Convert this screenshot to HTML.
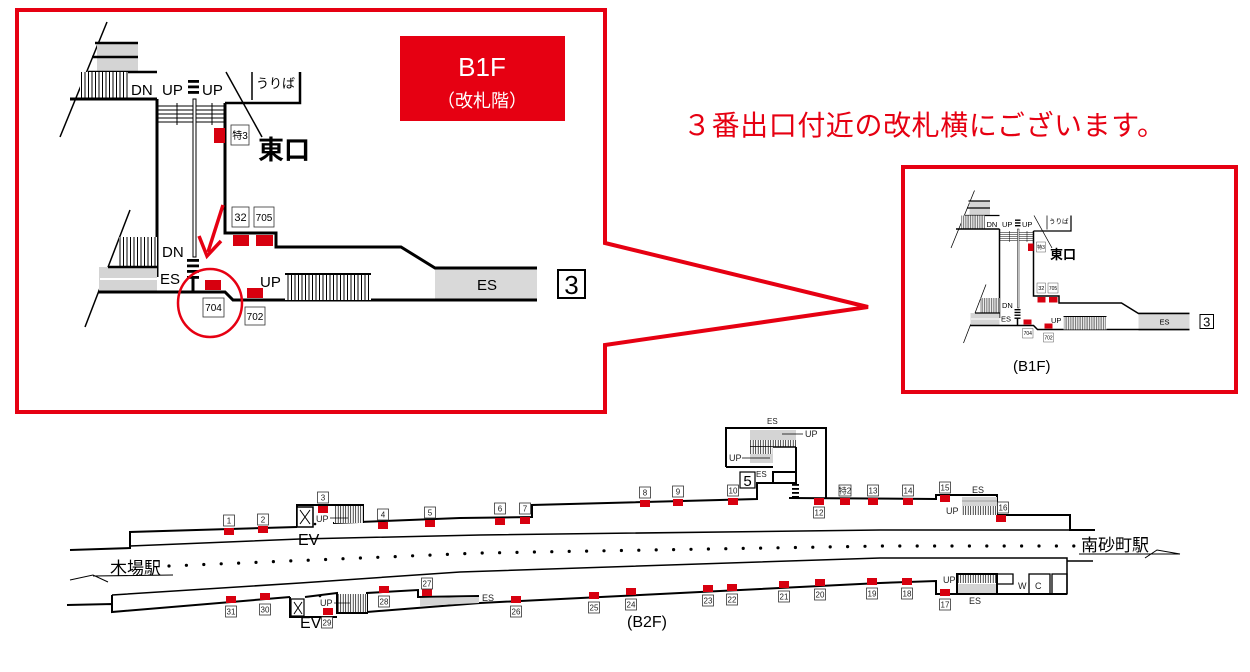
<!DOCTYPE html>
<html><head><meta charset="utf-8"><style>
html,body{margin:0;padding:0;background:#fff;}
svg{display:block;}
text{font-family:"Liberation Sans","Noto Sans CJK JP",sans-serif;}
.lb{fill:#fff;stroke:#333;stroke-width:0.8;}
.lt{font-size:8px;text-anchor:middle;fill:#222;}
.sq{fill:#d7000f;}
.w{stroke:#000;fill:none;}
</style></head><body>
<svg width="1250" height="672" viewBox="0 0 1250 672" xmlns="http://www.w3.org/2000/svg">
<defs>
<pattern id="vh" width="3.5" height="10" patternUnits="userSpaceOnUse"><rect width="3.5" height="10" fill="#fff"/><line x1="1" y1="0" x2="1" y2="10" stroke="#000" stroke-width="1"/></pattern>
<pattern id="vs" width="2.5" height="10" patternUnits="userSpaceOnUse"><rect width="2.5" height="10" fill="#fff"/><line x1="0.7" y1="0" x2="0.7" y2="10" stroke="#000" stroke-width="0.7"/></pattern>
<g id="b1f">
  <line x1="107" y1="22" x2="60" y2="137" stroke="#000" stroke-width="1.5"/>
  <rect x="97" y="43" width="41" height="29" fill="#d4d4d4"/>
  <g stroke="#000" stroke-width="2.5"><line x1="95" y1="43" x2="138" y2="43"/><line x1="92" y1="57" x2="138" y2="57"/><line x1="88" y1="72" x2="157" y2="72"/></g>
  <rect x="80" y="72" width="48" height="27" fill="url(#vh)"/>
  <line x1="70" y1="99" x2="157" y2="99" stroke="#000" stroke-width="3"/>
  <text x="131" y="95" font-size="15">DN</text>
  <line x1="157" y1="99" x2="157" y2="277" stroke="#000" stroke-width="3"/>
  <text x="162" y="95" font-size="15">UP</text>
  <rect x="188" y="80" width="11" height="2.8"/><rect x="188" y="85.5" width="11" height="2.8"/><rect x="188" y="91" width="11" height="2.8"/>
  <text x="202" y="95" font-size="15">UP</text>
  <g stroke="#000" stroke-width="1"><line x1="157" y1="106" x2="225" y2="106"/><line x1="157" y1="110" x2="225" y2="110"/><line x1="157" y1="114" x2="225" y2="114"/><line x1="157" y1="118" x2="225" y2="118"/><line x1="157" y1="122" x2="225" y2="122"/><line x1="177" y1="103" x2="177" y2="125"/><line x1="212" y1="103" x2="212" y2="125"/></g>
  <rect x="193" y="99" width="3" height="158" fill="#fff" stroke="#000" stroke-width="1"/>
  <polyline class="w" stroke-width="3" points="225,103 225,233 276,233 276,247 401,247 435,268 537,268"/>
  <polyline class="w" stroke-width="2.5" points="225,103 300,103 300,72"/>
  <line x1="252" y1="72" x2="252" y2="100" stroke="#000" stroke-width="1.5"/>
  <text x="256" y="88" font-size="13">うりば</text>
  <line x1="226" y1="72" x2="262" y2="137" stroke="#000" stroke-width="1.5"/>
  <rect x="214" y="128" width="11" height="15" class="sq"/>
  <rect x="231" y="125" width="18" height="20" class="lb"/><text x="240" y="139" font-size="10" text-anchor="middle">特3</text>
  <text x="258" y="159" font-size="26" font-weight="bold">東口</text>
  <rect x="232" y="207" width="17" height="20" class="lb"/><text x="240.5" y="221" font-size="11" text-anchor="middle">32</text>
  <rect x="254" y="207" width="20" height="20" class="lb"/><text x="264" y="221" font-size="10" text-anchor="middle">705</text>
  <rect x="233" y="235" width="16" height="11" class="sq"/><rect x="256" y="235" width="17" height="11" class="sq"/>
  <line x1="130" y1="210" x2="85" y2="327" stroke="#000" stroke-width="1.5"/>
  <rect x="119" y="237" width="38" height="30" fill="url(#vh)"/>
  <rect x="99" y="267" width="58" height="25" fill="#d4d4d4"/>
  <line x1="108" y1="267" x2="157" y2="267" stroke="#000" stroke-width="2.5"/>
  <line x1="100" y1="279" x2="157" y2="279" stroke="#fff" stroke-width="2"/>
  <text x="162" y="257" font-size="15">DN</text>
  <text x="160" y="284" font-size="15">ES</text>
  <rect x="187" y="259" width="12" height="2.8"/><rect x="187" y="264.5" width="12" height="2.8"/><rect x="187" y="270" width="12" height="2.8"/><rect x="187" y="276" width="12" height="2.8"/>
  <rect x="191.5" y="276" width="3" height="16"/>
  <polyline class="w" stroke-width="3" points="98,292 225,292 233,300 537,300"/>
  <rect x="205" y="280" width="16" height="10" class="sq"/>
  <rect x="203" y="298" width="21" height="19" class="lb"/><text x="213.5" y="311" font-size="10" text-anchor="middle">704</text>
  <rect x="247" y="288" width="16" height="10" class="sq"/>
  <rect x="245" y="307" width="20" height="18" class="lb"/><text x="255" y="320" font-size="10" text-anchor="middle">702</text>
  <text x="260" y="287" font-size="15">UP</text>
  <rect x="285" y="274" width="86" height="26" fill="url(#vh)"/>
  <line x1="285" y1="274" x2="371" y2="274" stroke="#000" stroke-width="2"/>
  <rect x="435" y="268" width="102" height="32" fill="#d9d9d9"/>
  <line x1="435" y1="268" x2="537" y2="268" stroke="#000" stroke-width="3"/>
  <line x1="435" y1="300" x2="537" y2="300" stroke="#000" stroke-width="3"/>
  <text x="487" y="290" font-size="15" text-anchor="middle">ES</text>
  <rect x="558" y="270" width="27" height="28" fill="#fff" stroke="#000" stroke-width="2"/>
  <text x="571.5" y="294" font-size="26" text-anchor="middle">3</text>
</g>
</defs>

<!-- big frame -->
<path d="M17,10 L605,10 L605,243 L868,307 L605,345 L605,412 L17,412 Z" fill="none" stroke="#e60012" stroke-width="4"/>
<use href="#b1f"/>
<rect x="400" y="36" width="165" height="85" fill="#e60012"/>
<text x="482" y="76" font-size="26" fill="#fff" text-anchor="middle">B1F</text>
<text x="482" y="107" font-size="18" fill="#fff" text-anchor="middle">（改札階）</text>
<line x1="223" y1="205" x2="208" y2="252" stroke="#e60012" stroke-width="3.5"/>
<polyline points="199,236 207,256 221,241" fill="none" stroke="#e60012" stroke-width="3.5"/>
<ellipse cx="210" cy="303" rx="32" ry="34" fill="none" stroke="#e60012" stroke-width="2.5"/>

<text x="683" y="135" font-size="28" fill="#e60012" textLength="482" font-family="'Liberation Sans','Noto Sans CJK JP',sans-serif">３番出口付近の改札横にございます。</text>

<!-- inset -->
<rect x="903" y="167" width="333" height="225" fill="none" stroke="#e60012" stroke-width="4"/>
<use href="#b1f" transform="translate(921,179.5) scale(0.5)"/>
<text x="1013" y="371" font-size="15">(B1F)</text>

<!-- B2F -->
<g stroke="#000" fill="none" stroke-width="2">
  <polyline points="70,550 130,548 130,532 297,527"/>
  <polyline points="297,527 297,505 363,505 363,523"/>
  <polyline points="333,523 460,518 532,517 532,505 757,499 757,483 773,483"/>
  <polyline points="726,467 726,428 826,428 826,498"/>
  <polyline points="726,467 773,467"/>
  <rect x="773" y="472" width="23" height="11"/>
  <line x1="796" y1="447" x2="796" y2="472"/>
  <polyline points="789,498 936,499 936,495 997,495 997,515 1070,515 1070,530 1095,530"/>
  <polyline points="130,546 300,539 480,535 880,530 1070,530" stroke-width="1.5"/>
  <polyline points="67,605 112,604 112,612 290,597"/>
  <line x1="112" y1="604" x2="112" y2="595"/>
  <polyline points="112,595 300,583 460,572 880,558 1067,558 1067,594" stroke-width="1.5"/>
  <line x1="1067" y1="561" x2="1093" y2="561" stroke-width="1.5"/>
  <polyline points="290,597 290,617 337,617"/>
  <polyline points="305,597 337,593 337,613 367,613 367,593 418,590 418,597 479,596"/>
  <polyline points="367,612 480,603 700,592 880,583 936,581 936,594 1067,594"/>
  <rect x="957" y="574" width="40" height="20"/>
  <polyline points="997,574 1013,574 1013,584 997,584" stroke-width="1.3"/>
  <rect x="1029" y="574" width="21" height="20" stroke-width="1.3"/>
  <rect x="1052" y="574" width="15" height="20" stroke-width="1.3"/>
  <polyline points="70,580 93,575 108,582" stroke-width="1"/>
  <line x1="93" y1="576" x2="173" y2="575" stroke-width="1"/>
  <line x1="1079" y1="554" x2="1180" y2="554" stroke-width="1"/>
  <polyline points="1145,558 1157,550 1180,554" stroke-width="1"/>
</g>
<rect x="297" y="507" width="16" height="20" fill="#fff" stroke="#000" stroke-width="1.5"/>
<path d="M300,510 L310,524 M310,510 L300,524" stroke="#000" stroke-width="1"/>
<rect x="334" y="506" width="29" height="17" fill="url(#vs)"/>
<rect x="291" y="599" width="13" height="17" fill="#fff" stroke="#000" stroke-width="1.2"/>
<path d="M294,602 L302,614 M302,602 L294,614" stroke="#000" stroke-width="1"/>
<rect x="338" y="594" width="29" height="18" fill="url(#vs)"/>
<polygon points="420,598 479,597 479,603 420,606" fill="#d4d4d4"/>
<rect x="750" y="430" width="46" height="10" fill="#d4d4d4"/>
<rect x="750" y="440" width="46" height="7" fill="url(#vs)"/>
<line x1="750" y1="447" x2="796" y2="447" stroke="#000" stroke-width="1.5"/>
<rect x="750" y="447" width="23" height="7" fill="url(#vs)"/>
<rect x="750" y="454" width="23" height="9" fill="#d4d4d4"/>
<rect x="792" y="484" width="7" height="1.8"/><rect x="792" y="488" width="7" height="1.8"/><rect x="792" y="492" width="7" height="1.8"/><rect x="792" y="496" width="7" height="1.8"/>
<rect x="962" y="497" width="35" height="9" fill="#d4d4d4"/>
<line x1="962" y1="501" x2="997" y2="501" stroke="#888" stroke-width="0.8"/>
<rect x="962" y="506" width="35" height="9" fill="url(#vs)"/>
<rect x="958" y="575" width="38" height="8" fill="url(#vs)"/>
<rect x="958" y="584" width="38" height="9" fill="#d4d4d4"/>
<g font-size="9" fill="#222">
<text x="767" y="424" font-size="8">ES</text>
<text x="805" y="437">UP</text><line x1="782" y1="434" x2="803" y2="434" stroke="#000" stroke-width="0.7"/>
<text x="729" y="461">UP</text><line x1="742" y1="458" x2="770" y2="458" stroke="#000" stroke-width="0.7"/>
<text x="756" y="477" font-size="8">ES</text>
<text x="972" y="493">ES</text>
<text x="946" y="514">UP</text>
<text x="943" y="583">UP</text>
<text x="969" y="604">ES</text>
<text x="1018" y="589">W</text><text x="1035" y="589">C</text>
<text x="482" y="601">ES</text>
<text x="316" y="522">UP</text><line x1="330" y1="518" x2="348" y2="518" stroke="#000" stroke-width="0.7"/>
<text x="320" y="606">UP</text><line x1="334" y1="603" x2="350" y2="603" stroke="#000" stroke-width="0.7"/>
</g>
<rect x="740" y="472" width="15" height="16" fill="#fff" stroke="#000" stroke-width="1.2"/>
<text x="747.5" y="486" font-size="15" text-anchor="middle">5</text>
<text x="298" y="545" font-size="16">EV</text>
<text x="300" y="628" font-size="16">EV</text>
<circle cx="315" cy="524" r="1.3"/><circle cx="320" cy="596" r="1.3"/>
<text x="110" y="574" font-size="17" font-family="'Liberation Sans','Noto Sans CJK JP',sans-serif">木場駅</text>
<text x="1081" y="551" font-size="17" font-family="'Liberation Sans','Noto Sans CJK JP',sans-serif">南砂町駅</text>
<text x="627" y="627" font-size="16">(B2F)</text>

<!-- dots -->
<g fill="#000">
<circle cx="169" cy="566" r="1.6"/><circle cx="186.4" cy="565.3" r="1.6"/><circle cx="203.8" cy="564.5" r="1.6"/><circle cx="221.2" cy="563.8" r="1.6"/><circle cx="238.6" cy="563.1" r="1.6"/><circle cx="256" cy="562.4" r="1.6"/><circle cx="273.4" cy="561.6" r="1.6"/><circle cx="290.8" cy="560.9" r="1.6"/><circle cx="308.2" cy="560.2" r="1.6"/><circle cx="325.6" cy="559.5" r="1.6"/><circle cx="343" cy="558.7" r="1.6"/><circle cx="360.4" cy="558" r="1.6"/><circle cx="377.8" cy="557.3" r="1.6"/><circle cx="395.2" cy="556.6" r="1.6"/><circle cx="412.6" cy="555.8" r="1.6"/><circle cx="430" cy="555.1" r="1.6"/><circle cx="447.4" cy="554.4" r="1.6"/><circle cx="464.8" cy="553.6" r="1.6"/><circle cx="482.2" cy="553" r="1.6"/><circle cx="499.6" cy="552.7" r="1.6"/><circle cx="517" cy="552.4" r="1.6"/><circle cx="534.4" cy="552" r="1.6"/><circle cx="551.8" cy="551.7" r="1.6"/><circle cx="569.2" cy="551.4" r="1.6"/><circle cx="586.6" cy="551.1" r="1.6"/><circle cx="604" cy="550.8" r="1.6"/><circle cx="621.4" cy="550.5" r="1.6"/><circle cx="638.8" cy="550.2" r="1.6"/><circle cx="656.2" cy="549.9" r="1.6"/><circle cx="673.6" cy="549.6" r="1.6"/><circle cx="691" cy="549.3" r="1.6"/><circle cx="708.4" cy="549" r="1.6"/><circle cx="725.8" cy="548.7" r="1.6"/><circle cx="743.2" cy="548.4" r="1.6"/><circle cx="760.6" cy="548.1" r="1.6"/><circle cx="778" cy="547.8" r="1.6"/><circle cx="795.4" cy="547.5" r="1.6"/><circle cx="812.8" cy="547.2" r="1.6"/><circle cx="830.2" cy="546.9" r="1.6"/><circle cx="847.6" cy="546.6" r="1.6"/><circle cx="865" cy="546.3" r="1.6"/><circle cx="882.4" cy="546" r="1.6"/><circle cx="899.8" cy="546" r="1.6"/><circle cx="917.2" cy="546" r="1.6"/><circle cx="934.6" cy="546" r="1.6"/><circle cx="952" cy="546" r="1.6"/><circle cx="969.4" cy="546" r="1.6"/><circle cx="986.8" cy="546" r="1.6"/><circle cx="1004.2" cy="546" r="1.6"/><circle cx="1021.6" cy="546" r="1.6"/><circle cx="1039" cy="546" r="1.6"/><circle cx="1056.4" cy="546" r="1.6"/><circle cx="1073.8" cy="546" r="1.6"/>
</g>

<!-- red squares upper -->
<g class="sq">
<rect x="224" y="528" width="10" height="7"/><rect x="258" y="526" width="10" height="7"/><rect x="318" y="506" width="10" height="7"/><rect x="378" y="522" width="10" height="7"/><rect x="425" y="520" width="10" height="7"/><rect x="495" y="518" width="10" height="7"/><rect x="520" y="517" width="10" height="7"/><rect x="640" y="500" width="10" height="7"/><rect x="673" y="499" width="10" height="7"/><rect x="728" y="498" width="10" height="7"/><rect x="814" y="498" width="10" height="7"/><rect x="840" y="498" width="10" height="7"/><rect x="868" y="498" width="10" height="7"/><rect x="903" y="498" width="10" height="7"/><rect x="940" y="495" width="10" height="7"/><rect x="996" y="515" width="10" height="7"/>
<rect x="226" y="596" width="10" height="7"/><rect x="260" y="593" width="10" height="7"/><rect x="323" y="608" width="10" height="7"/><rect x="379" y="586" width="10" height="7"/><rect x="422" y="589" width="10" height="7"/><rect x="511" y="596" width="10" height="7"/><rect x="589" y="592" width="10" height="7"/><rect x="626" y="588" width="10" height="7"/><rect x="703" y="585" width="10" height="7"/><rect x="727" y="584" width="10" height="7"/><rect x="779" y="581" width="10" height="7"/><rect x="815" y="579" width="10" height="7"/><rect x="867" y="578" width="10" height="7"/><rect x="902" y="578" width="10" height="7"/><rect x="940" y="589" width="10" height="7"/>
</g>
<!-- labels -->
<g>
<rect class="lb" x="223.5" y="515" width="11" height="11"/><text class="lt" x="229" y="523.5">1</text>
<rect class="lb" x="257.5" y="514" width="11" height="11"/><text class="lt" x="263" y="522.5">2</text>
<rect class="lb" x="317.5" y="492" width="11" height="11"/><text class="lt" x="323" y="500.5">3</text>
<rect class="lb" x="377.5" y="509" width="11" height="11"/><text class="lt" x="383" y="517.5">4</text>
<rect class="lb" x="424.5" y="507" width="11" height="11"/><text class="lt" x="430" y="515.5">5</text>
<rect class="lb" x="494.5" y="503" width="11" height="11"/><text class="lt" x="500" y="511.5">6</text>
<rect class="lb" x="519.5" y="503" width="11" height="11"/><text class="lt" x="525" y="511.5">7</text>
<rect class="lb" x="639.5" y="487" width="11" height="11"/><text class="lt" x="645" y="495.5">8</text>
<rect class="lb" x="672.5" y="486" width="11" height="11"/><text class="lt" x="678" y="494.5">9</text>
<rect class="lb" x="727.5" y="485" width="11" height="11"/><text class="lt" x="733" y="493.5">10</text>
<rect class="lb" x="813.5" y="507" width="11" height="11"/><text class="lt" x="819" y="515.5">12</text>
<rect class="lb" x="839" y="485" width="12" height="11"/><text class="lt" x="845" y="493.5" font-size="7">特2</text>
<rect class="lb" x="867.5" y="485" width="11" height="11"/><text class="lt" x="873" y="493.5">13</text>
<rect class="lb" x="902.5" y="485" width="11" height="11"/><text class="lt" x="908" y="493.5">14</text>
<rect class="lb" x="939.5" y="482" width="11" height="11"/><text class="lt" x="945" y="490.5">15</text>
<rect class="lb" x="997.5" y="502" width="11" height="11"/><text class="lt" x="1003" y="510.5">16</text>
<rect class="lb" x="225.5" y="606" width="11" height="11"/><text class="lt" x="231" y="614.5">31</text>
<rect class="lb" x="259.5" y="604" width="11" height="11"/><text class="lt" x="265" y="612.5">30</text>
<rect class="lb" x="321.5" y="617" width="11" height="11"/><text class="lt" x="327" y="625.5">29</text>
<rect class="lb" x="378.5" y="596" width="11" height="11"/><text class="lt" x="384" y="604.5">28</text>
<rect class="lb" x="421.5" y="578" width="11" height="11"/><text class="lt" x="427" y="586.5">27</text>
<rect class="lb" x="510.5" y="606" width="11" height="11"/><text class="lt" x="516" y="614.5">26</text>
<rect class="lb" x="588.5" y="602" width="11" height="11"/><text class="lt" x="594" y="610.5">25</text>
<rect class="lb" x="625.5" y="599" width="11" height="11"/><text class="lt" x="631" y="607.5">24</text>
<rect class="lb" x="702.5" y="595" width="11" height="11"/><text class="lt" x="708" y="603.5">23</text>
<rect class="lb" x="726.5" y="594" width="11" height="11"/><text class="lt" x="732" y="602.5">22</text>
<rect class="lb" x="778.5" y="591" width="11" height="11"/><text class="lt" x="784" y="599.5">21</text>
<rect class="lb" x="814.5" y="589" width="11" height="11"/><text class="lt" x="820" y="597.5">20</text>
<rect class="lb" x="866.5" y="588" width="11" height="11"/><text class="lt" x="872" y="596.5">19</text>
<rect class="lb" x="901.5" y="588" width="11" height="11"/><text class="lt" x="907" y="596.5">18</text>
<rect class="lb" x="939.5" y="599" width="11" height="11"/><text class="lt" x="945" y="607.5">17</text>
</g>
</svg>
</body></html>
